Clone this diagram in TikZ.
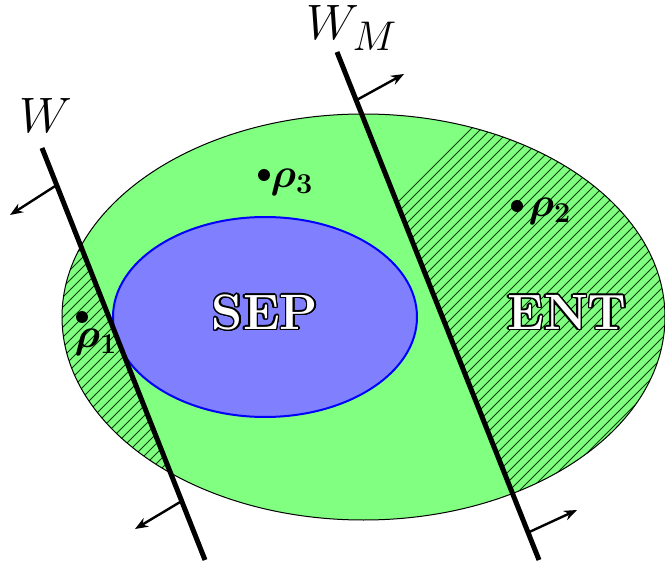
\documentclass[tikz,border=0pt]{standalone}
\usepackage{bm}
\usepackage{contour}
\usetikzlibrary{arrows.meta, calc}
\contourlength{0.7pt}
\contournumber{24}

\begin{document}
\begin{tikzpicture}[
  x=0.5pt, y=-0.5pt,
  >={Stealth[length=6.5pt, width=5pt]},
  wall/.style={line width=2.5pt},
  normal/.style={->, line width=1.2pt},
  hatch/.style={line width=0.45pt, green!25!black},
  pt-dot/.style={circle, fill=black, minimum size=6pt, inner sep=0pt},
  pt-lbl/.style={font=\huge, inner sep=0pt},
  set-lbl/.style={font=\Huge\bfseries, inner sep=0pt}
]
  \useasboundingbox (0,0) rectangle (665,567);

  % the two witness lines
  \coordinate (Wt) at (42,148);
  \coordinate (Wb) at (205,560);
  \coordinate (Mt) at (337,52);
  \coordinate (Mb) at (539,560);

  % ===========================================================
  % STATE SPACE (green) and SEP (blue)
  % ===========================================================
  \fill[green!50] (363.5,317) ellipse [x radius=301.5, y radius=203];

  % hatched parts: outside of W and beyond W_M
  \begin{scope}
    \clip (363.5,317) ellipse [x radius=301.5, y radius=203];
    \begin{scope}
      \clip ($(Wt)!-1!(Wb)$) -- ($(Wt)!2!(Wb)$) -- (-500,972) -- (-500,-264) -- cycle;
      \foreach \i in {-600,-590,...,700}
        \draw[hatch] (\i,600) -- ++(600,-600);
    \end{scope}
    \begin{scope}
      \clip ($(Mt)!-1!(Mb)$) -- ($(Mt)!2!(Mb)$) -- (1200,1068) -- (1200,-455) -- cycle;
      \foreach \i in {0,10,...,1200}
        \draw[hatch] (\i,600) -- ++(600,-600);
    \end{scope}
  \end{scope}
  \draw[line width=0.5pt] (363.5,317) ellipse [x radius=301.5, y radius=203];

  \filldraw[fill=blue!50, draw=blue, line width=1pt]
    (265,317) ellipse [x radius=152, y radius=100];

  \node[set-lbl] (sep) at (265,313) {\contour{black}{\textcolor{white}{SEP}}};
  \node[set-lbl] (ent) at (567,313) {\contour{black}{\textcolor{white}{ENT}}};

  % ===========================================================
  % points
  % ===========================================================
  \node[pt-dot] (r1) at (82,317) {};
  \node[pt-lbl] (r1-lbl) at (96,342) {$\bm{\rho_1}$};
  \node[pt-dot] (r3) at (264,175) {};
  \node[pt-lbl] (r3-lbl) at (292,182) {$\bm{\rho_3}$};
  \node[pt-dot] (r2) at (517,206) {};
  \node[pt-lbl] (r2-lbl) at (550,211) {$\bm{\rho_2}$};

  % ===========================================================
  % lines W, W_M and their normals
  % ===========================================================
  \draw[wall] (Wt) -- (Wb);
  \draw[wall] (Mt) -- (Mb);

  \node[font=\Huge, inner sep=0pt] (W)  at (46,116) {$W$};
  \node[font=\Huge, inner sep=0pt] (WM) at (352,28) {$W_M$};

  \coordinate (Wn1) at ($(Wt)!0.09!(Wb)$);
  \coordinate (Wn2) at ($(Wt)!0.857!(Wb)$);
  \coordinate (Wa1) at (10,215);
  \coordinate (Wa2) at (135,529);
  \draw[normal] (Wn1) -- (Wa1);
  \draw[normal] (Wn2) -- (Wa2);

  \coordinate (Mn1) at ($(Mt)!0.095!(Mb)$);
  \coordinate (Mn2) at ($(Mt)!0.946!(Mb)$);
  \coordinate (Ma1) at (404,74);
  \coordinate (Ma2) at (577,510);
  \draw[normal] (Mn1) -- (Ma1);
  \draw[normal] (Mn2) -- (Ma2);

\end{tikzpicture}
\end{document}
